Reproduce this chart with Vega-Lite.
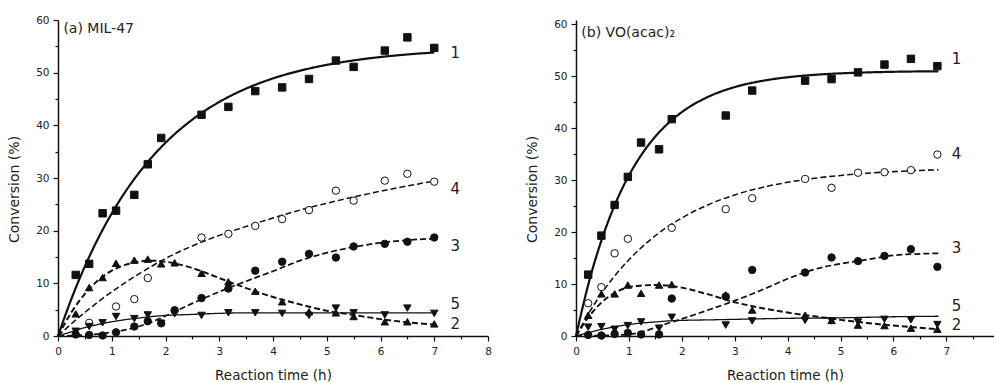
{
  "$schema": "https://vega.github.io/schema/vega-lite/v6.json",
  "background": "white",
  "padding": {"left": 7, "top": 15, "right": 0, "bottom": 0},
  "spacing": 33,
  "config": {
    "view": {"stroke": null},
    "font": "DejaVu Sans",
    "axis": {"grid": false, "domainColor": "#111", "domainWidth": 1.5, "tickColor": "#111", "tickWidth": 1.2, "labelFont": "DejaVu Sans", "labelFontSize": 10.5, "labelColor": "#222", "titleFont": "DejaVu Sans", "titleFontWeight": "normal", "titleColor": "#222", "labelOverlap": false, "labelFlush": false},
    "axisX": {"labelPadding": 5, "titleFontSize": 13.5, "titlePadding": 12},
    "axisY": {"labelPadding": 4, "titleFontSize": 14, "titlePadding": 14, "titleY": 169}
  },
  "datasets": {
    "pa": [
      {"t":0.33,"y":11.6,"s":"1"},{"t":0.58,"y":13.7,"s":"1"},{"t":0.83,"y":23.3,"s":"1"},{"t":1.08,"y":23.8,"s":"1"},{"t":1.42,"y":26.8,"s":"1"},{"t":1.67,"y":32.6,"s":"1"},{"t":1.92,"y":37.6,"s":"1"},{"t":2.67,"y":42.0,"s":"1"},{"t":3.17,"y":43.5,"s":"1"},{"t":3.67,"y":46.5,"s":"1"},{"t":4.17,"y":47.2,"s":"1"},{"t":4.67,"y":48.8,"s":"1"},{"t":5.17,"y":52.3,"s":"1"},{"t":5.5,"y":51.1,"s":"1"},{"t":6.08,"y":54.2,"s":"1"},{"t":6.5,"y":56.7,"s":"1"},{"t":7.0,"y":54.7,"s":"1"},
      {"t":0.58,"y":2.5,"s":"4"},{"t":1.08,"y":5.6,"s":"4"},{"t":1.42,"y":7.0,"s":"4"},{"t":1.67,"y":11.0,"s":"4"},{"t":2.67,"y":18.7,"s":"4"},{"t":3.17,"y":19.4,"s":"4"},{"t":3.67,"y":20.9,"s":"4"},{"t":4.17,"y":22.2,"s":"4"},{"t":4.67,"y":23.9,"s":"4"},{"t":5.17,"y":27.6,"s":"4"},{"t":5.5,"y":25.7,"s":"4"},{"t":6.08,"y":29.5,"s":"4"},{"t":6.5,"y":30.8,"s":"4"},{"t":7.0,"y":29.3,"s":"4"},
      {"t":0.33,"y":0.3,"s":"3"},{"t":0.58,"y":0.2,"s":"3"},{"t":0.83,"y":0.1,"s":"3"},{"t":1.08,"y":0.7,"s":"3"},{"t":1.42,"y":1.8,"s":"3"},{"t":1.67,"y":2.8,"s":"3"},{"t":1.92,"y":2.4,"s":"3"},{"t":2.17,"y":4.9,"s":"3"},{"t":2.67,"y":7.2,"s":"3"},{"t":3.17,"y":9.0,"s":"3"},{"t":3.67,"y":12.4,"s":"3"},{"t":4.17,"y":14.1,"s":"3"},{"t":4.67,"y":15.6,"s":"3"},{"t":5.17,"y":14.9,"s":"3"},{"t":5.5,"y":17.0,"s":"3"},{"t":6.08,"y":17.5,"s":"3"},{"t":6.5,"y":17.9,"s":"3"},{"t":7.0,"y":18.7,"s":"3"},
      {"t":0.33,"y":4.2,"s":"2"},{"t":0.58,"y":9.2,"s":"2"},{"t":0.83,"y":11.1,"s":"2"},{"t":1.08,"y":13.8,"s":"2"},{"t":1.42,"y":14.4,"s":"2"},{"t":1.67,"y":14.6,"s":"2"},{"t":1.92,"y":13.7,"s":"2"},{"t":2.17,"y":13.9,"s":"2"},{"t":2.67,"y":11.9,"s":"2"},{"t":3.17,"y":10.3,"s":"2"},{"t":3.67,"y":8.5,"s":"2"},{"t":4.17,"y":6.5,"s":"2"},{"t":4.67,"y":4.6,"s":"2"},{"t":5.17,"y":4.4,"s":"2"},{"t":5.5,"y":3.7,"s":"2"},{"t":6.08,"y":2.7,"s":"2"},{"t":6.5,"y":2.7,"s":"2"},{"t":7.0,"y":2.3,"s":"2"},
      {"t":0.33,"y":0.9,"s":"5"},{"t":0.58,"y":1.8,"s":"5"},{"t":0.83,"y":2.5,"s":"5"},{"t":1.08,"y":3.7,"s":"5"},{"t":1.42,"y":3.3,"s":"5"},{"t":1.67,"y":4.0,"s":"5"},{"t":1.92,"y":2.4,"s":"5"},{"t":2.17,"y":4.2,"s":"5"},{"t":2.67,"y":3.9,"s":"5"},{"t":3.17,"y":4.4,"s":"5"},{"t":3.67,"y":4.4,"s":"5"},{"t":4.17,"y":4.3,"s":"5"},{"t":4.67,"y":3.9,"s":"5"},{"t":5.17,"y":5.3,"s":"5"},{"t":5.5,"y":4.4,"s":"5"},{"t":6.08,"y":4.0,"s":"5"},{"t":6.5,"y":5.3,"s":"5"},{"t":7.0,"y":4.3,"s":"5"}
    ],
    "fa": [
      {"t":0,"y":0,"s":"1"},{"t":0.25,"y":7.07,"s":"1"},{"t":0.5,"y":13.22,"s":"1"},{"t":0.75,"y":18.59,"s":"1"},{"t":1,"y":23.27,"s":"1"},{"t":1.25,"y":27.35,"s":"1"},{"t":1.5,"y":30.9,"s":"1"},{"t":1.75,"y":33.99,"s":"1"},{"t":2,"y":36.69,"s":"1"},{"t":2.5,"y":41.1,"s":"1"},{"t":3,"y":44.44,"s":"1"},{"t":3.5,"y":46.98,"s":"1"},{"t":4,"y":48.91,"s":"1"},{"t":4.5,"y":50.37,"s":"1"},{"t":5,"y":51.48,"s":"1"},{"t":5.5,"y":52.33,"s":"1"},{"t":6,"y":52.97,"s":"1"},{"t":6.5,"y":53.46,"s":"1"},{"t":7,"y":53.83,"s":"1"},
      {"t":0,"y":0,"s":"4"},{"t":0.25,"y":2.32,"s":"4"},{"t":0.5,"y":4.48,"s":"4"},{"t":0.75,"y":6.5,"s":"4"},{"t":1,"y":8.38,"s":"4"},{"t":1.25,"y":10.13,"s":"4"},{"t":1.5,"y":11.76,"s":"4"},{"t":1.75,"y":13.29,"s":"4"},{"t":2,"y":14.71,"s":"4"},{"t":2.5,"y":17.1,"s":"4"},{"t":3,"y":19.1,"s":"4"},{"t":3.5,"y":20.8,"s":"4"},{"t":4,"y":22.4,"s":"4"},{"t":4.5,"y":23.9,"s":"4"},{"t":5,"y":25.2,"s":"4"},{"t":5.5,"y":26.4,"s":"4"},{"t":6,"y":27.5,"s":"4"},{"t":6.5,"y":28.5,"s":"4"},{"t":7,"y":29.4,"s":"4"},
      {"t":0,"y":0,"s":"3"},{"t":0.5,"y":0.2,"s":"3"},{"t":1,"y":0.7,"s":"3"},{"t":1.5,"y":1.8,"s":"3"},{"t":2,"y":3.8,"s":"3"},{"t":2.5,"y":6.2,"s":"3"},{"t":3,"y":8.4,"s":"3"},{"t":3.5,"y":10.4,"s":"3"},{"t":4,"y":12.3,"s":"3"},{"t":4.5,"y":14.3,"s":"3"},{"t":5,"y":15.8,"s":"3"},{"t":5.5,"y":16.9,"s":"3"},{"t":6,"y":17.7,"s":"3"},{"t":6.5,"y":18.2,"s":"3"},{"t":7,"y":18.5,"s":"3"},
      {"t":0,"y":0,"s":"2"},{"t":0.25,"y":4.5,"s":"2"},{"t":0.5,"y":8.0,"s":"2"},{"t":0.75,"y":10.6,"s":"2"},{"t":1,"y":12.4,"s":"2"},{"t":1.25,"y":13.5,"s":"2"},{"t":1.5,"y":14.1,"s":"2"},{"t":1.75,"y":14.3,"s":"2"},{"t":2,"y":14.1,"s":"2"},{"t":2.5,"y":12.9,"s":"2"},{"t":3,"y":11.0,"s":"2"},{"t":3.5,"y":9.1,"s":"2"},{"t":4,"y":7.4,"s":"2"},{"t":4.5,"y":6.0,"s":"2"},{"t":5,"y":4.8,"s":"2"},{"t":5.5,"y":4.0,"s":"2"},{"t":6,"y":3.2,"s":"2"},{"t":6.5,"y":2.6,"s":"2"},{"t":7,"y":2.2,"s":"2"},
      {"t":0,"y":0,"s":"5"},{"t":0.25,"y":0.8,"s":"5"},{"t":0.5,"y":1.6,"s":"5"},{"t":0.75,"y":2.2,"s":"5"},{"t":1,"y":2.7,"s":"5"},{"t":1.25,"y":3.1,"s":"5"},{"t":1.5,"y":3.4,"s":"5"},{"t":1.75,"y":3.7,"s":"5"},{"t":2,"y":3.9,"s":"5"},{"t":2.5,"y":4.1,"s":"5"},{"t":3,"y":4.3,"s":"5"},{"t":3.5,"y":4.4,"s":"5"},{"t":4,"y":4.4,"s":"5"},{"t":5,"y":4.4,"s":"5"},{"t":6,"y":4.4,"s":"5"},{"t":7,"y":4.4,"s":"5"}
    ],
    "la": [
      {"t":7.3,"y":53.7,"txt":"1"},{"t":7.3,"y":27.9,"txt":"4"},{"t":7.3,"y":17.1,"txt":"3"},{"t":7.3,"y":6.0,"txt":"5"},{"t":7.3,"y":2.3,"txt":"2"}
    ],
    "ta": [{"t":0.1,"y":58.3,"txt":"(a) MIL-47"}],
    "pb": [
      {"t":0.23,"y":11.8,"s":"1"},{"t":0.48,"y":19.3,"s":"1"},{"t":0.73,"y":25.2,"s":"1"},{"t":0.98,"y":30.6,"s":"1"},{"t":1.23,"y":37.2,"s":"1"},{"t":1.57,"y":35.9,"s":"1"},{"t":1.81,"y":41.7,"s":"1"},{"t":2.83,"y":42.4,"s":"1"},{"t":3.33,"y":47.2,"s":"1"},{"t":4.33,"y":49.1,"s":"1"},{"t":4.83,"y":49.4,"s":"1"},{"t":5.33,"y":50.7,"s":"1"},{"t":5.83,"y":52.2,"s":"1"},{"t":6.33,"y":53.3,"s":"1"},{"t":6.83,"y":51.9,"s":"1"},
      {"t":0.23,"y":6.3,"s":"4"},{"t":0.48,"y":9.4,"s":"4"},{"t":0.73,"y":15.9,"s":"4"},{"t":0.98,"y":18.7,"s":"4"},{"t":1.81,"y":20.8,"s":"4"},{"t":2.83,"y":24.4,"s":"4"},{"t":3.33,"y":26.5,"s":"4"},{"t":4.33,"y":30.2,"s":"4"},{"t":4.83,"y":28.5,"s":"4"},{"t":5.33,"y":31.4,"s":"4"},{"t":5.83,"y":31.5,"s":"4"},{"t":6.33,"y":31.9,"s":"4"},{"t":6.83,"y":34.9,"s":"4"},
      {"t":0.23,"y":0.2,"s":"3"},{"t":0.48,"y":0.1,"s":"3"},{"t":0.73,"y":0.4,"s":"3"},{"t":0.98,"y":0.6,"s":"3"},{"t":1.23,"y":0.3,"s":"3"},{"t":1.57,"y":0.3,"s":"3"},{"t":1.81,"y":7.2,"s":"3"},{"t":2.83,"y":7.6,"s":"3"},{"t":3.33,"y":12.7,"s":"3"},{"t":4.33,"y":12.2,"s":"3"},{"t":4.83,"y":15.1,"s":"3"},{"t":5.33,"y":14.4,"s":"3"},{"t":5.83,"y":15.4,"s":"3"},{"t":6.33,"y":16.7,"s":"3"},{"t":6.83,"y":13.3,"s":"3"},
      {"t":0.23,"y":4.0,"s":"2"},{"t":0.48,"y":8.1,"s":"2"},{"t":0.73,"y":8.1,"s":"2"},{"t":0.98,"y":9.8,"s":"2"},{"t":1.23,"y":8.2,"s":"2"},{"t":1.57,"y":9.8,"s":"2"},{"t":1.81,"y":9.9,"s":"2"},{"t":2.83,"y":7.9,"s":"2"},{"t":3.33,"y":5.0,"s":"2"},{"t":4.33,"y":4.0,"s":"2"},{"t":4.83,"y":3.0,"s":"2"},{"t":5.33,"y":2.1,"s":"2"},{"t":5.83,"y":2.0,"s":"2"},{"t":6.33,"y":1.5,"s":"2"},{"t":6.83,"y":1.3,"s":"2"},
      {"t":0.23,"y":1.7,"s":"5"},{"t":0.48,"y":1.8,"s":"5"},{"t":0.73,"y":1.3,"s":"5"},{"t":0.98,"y":2.0,"s":"5"},{"t":1.23,"y":2.7,"s":"5"},{"t":1.57,"y":1.5,"s":"5"},{"t":1.81,"y":3.6,"s":"5"},{"t":2.83,"y":2.1,"s":"5"},{"t":3.33,"y":2.9,"s":"5"},{"t":4.33,"y":3.0,"s":"5"},{"t":4.83,"y":2.9,"s":"5"},{"t":5.33,"y":2.7,"s":"5"},{"t":5.83,"y":3.2,"s":"5"},{"t":6.33,"y":3.1,"s":"5"},{"t":6.83,"y":2.2,"s":"5"}
    ],
    "fb": [
      {"t":0,"y":0,"s":"1"},{"t":0.25,"y":10.58,"s":"1"},{"t":0.5,"y":18.96,"s":"1"},{"t":0.75,"y":25.61,"s":"1"},{"t":1,"y":30.88,"s":"1"},{"t":1.25,"y":35.05,"s":"1"},{"t":1.5,"y":38.36,"s":"1"},{"t":1.75,"y":40.98,"s":"1"},{"t":2,"y":43.06,"s":"1"},{"t":2.5,"y":46.01,"s":"1"},{"t":3,"y":47.87,"s":"1"},{"t":3.5,"y":49.03,"s":"1"},{"t":4,"y":49.76,"s":"1"},{"t":4.5,"y":50.22,"s":"1"},{"t":5,"y":50.51,"s":"1"},{"t":5.5,"y":50.69,"s":"1"},{"t":6,"y":50.81,"s":"1"},{"t":6.5,"y":50.88,"s":"1"},{"t":6.85,"y":50.91,"s":"1"},
      {"t":0,"y":0,"s":"4"},{"t":0.25,"y":4.53,"s":"4"},{"t":0.5,"y":8.42,"s":"4"},{"t":0.75,"y":11.78,"s":"4"},{"t":1,"y":14.66,"s":"4"},{"t":1.25,"y":17.15,"s":"4"},{"t":1.5,"y":19.29,"s":"4"},{"t":1.75,"y":21.13,"s":"4"},{"t":2,"y":22.71,"s":"4"},{"t":2.5,"y":25.25,"s":"4"},{"t":3,"y":27.13,"s":"4"},{"t":3.5,"y":28.52,"s":"4"},{"t":4,"y":29.55,"s":"4"},{"t":4.5,"y":30.32,"s":"4"},{"t":5,"y":30.88,"s":"4"},{"t":5.5,"y":31.3,"s":"4"},{"t":6,"y":31.61,"s":"4"},{"t":6.5,"y":31.84,"s":"4"},{"t":6.85,"y":31.97,"s":"4"},
      {"t":0,"y":0,"s":"3"},{"t":0.5,"y":0.1,"s":"3"},{"t":1,"y":0.3,"s":"3"},{"t":1.25,"y":0.8,"s":"3"},{"t":1.5,"y":1.6,"s":"3"},{"t":1.75,"y":2.5,"s":"3"},{"t":2,"y":3.3,"s":"3"},{"t":2.5,"y":5.0,"s":"3"},{"t":3,"y":6.8,"s":"3"},{"t":3.5,"y":8.8,"s":"3"},{"t":4,"y":11.0,"s":"3"},{"t":4.5,"y":12.8,"s":"3"},{"t":5,"y":13.9,"s":"3"},{"t":5.5,"y":14.7,"s":"3"},{"t":6,"y":15.5,"s":"3"},{"t":6.5,"y":15.8,"s":"3"},{"t":6.85,"y":15.9,"s":"3"},
      {"t":0,"y":0,"s":"2"},{"t":0.25,"y":3.8,"s":"2"},{"t":0.5,"y":6.6,"s":"2"},{"t":0.75,"y":8.4,"s":"2"},{"t":1,"y":9.4,"s":"2"},{"t":1.25,"y":9.7,"s":"2"},{"t":1.5,"y":9.8,"s":"2"},{"t":1.75,"y":9.7,"s":"2"},{"t":2,"y":9.3,"s":"2"},{"t":2.5,"y":8.0,"s":"2"},{"t":3,"y":6.5,"s":"2"},{"t":3.5,"y":5.4,"s":"2"},{"t":4,"y":4.5,"s":"2"},{"t":4.5,"y":3.8,"s":"2"},{"t":5,"y":3.1,"s":"2"},{"t":5.5,"y":2.5,"s":"2"},{"t":6,"y":2.0,"s":"2"},{"t":6.5,"y":1.6,"s":"2"},{"t":6.85,"y":1.3,"s":"2"},
      {"t":0,"y":0,"s":"5"},{"t":0.25,"y":0.7,"s":"5"},{"t":0.5,"y":1.3,"s":"5"},{"t":0.75,"y":1.8,"s":"5"},{"t":1,"y":2.2,"s":"5"},{"t":1.25,"y":2.5,"s":"5"},{"t":1.5,"y":2.7,"s":"5"},{"t":1.75,"y":2.9,"s":"5"},{"t":2,"y":3.0,"s":"5"},{"t":2.5,"y":3.1,"s":"5"},{"t":3,"y":3.2,"s":"5"},{"t":4,"y":3.4,"s":"5"},{"t":5,"y":3.5,"s":"5"},{"t":6,"y":3.7,"s":"5"},{"t":6.85,"y":3.8,"s":"5"}
    ],
    "lb": [
      {"t":7.1,"y":53.3,"txt":"1"},{"t":7.1,"y":35.0,"txt":"4"},{"t":7.1,"y":16.9,"txt":"3"},{"t":7.1,"y":5.8,"txt":"5"},{"t":7.1,"y":2.1,"txt":"2"}
    ],
    "tb": [{"t":0.1,"y":58.3,"txt":"(b) VO(acac)₂"}]
  },
  "resolve": {"scale": {"x": "independent", "y": "independent"}},
  "hconcat": [
    {
      "width": 430, "height": 316,
      "encoding": {
        "x": {"field": "t", "type": "quantitative", "scale": {"domain": [0, 8], "nice": false, "zero": false},
          "axis": {"title": "Reaction time (h)", "values": [0,0.5,1,1.5,2,2.5,3,3.5,4,4.5,5,5.5,6,6.5,7,7.5,8],
            "labelExpr": "datum.value % 1 === 0 ? '' + datum.value : ''",
            "tickSize": {"condition": {"test": "datum.value % 1 !== 0", "value": 3}, "value": 5}}},
        "y": {"field": "y", "type": "quantitative", "scale": {"domain": [0, 60], "nice": false},
          "axis": {"title": "Conversion (%)", "values": [0,5,10,15,20,25,30,35,40,45,50,55,60],
            "labelExpr": "datum.value % 10 === 0 ? '' + datum.value : ''",
            "tickSize": {"condition": {"test": "datum.value % 10 !== 0", "value": 3}, "value": 5}}}
      },
      "layer": [
        {"data": {"name": "fa"}, "mark": {"type": "line", "interpolate": "monotone", "color": "#111"},
          "encoding": {"detail": {"field": "s"},
            "strokeDash": {"field": "s", "type": "nominal", "scale": {"domain": ["1","2","3","4","5"], "range": [[1,0],[6,3],[6,3],[6,3],[1,0]]}, "legend": null},
            "strokeWidth": {"field": "s", "type": "nominal", "scale": {"domain": ["1","2","3","4","5"], "range": [2.2,1.3,1.3,1.1,1]}, "legend": null}}},
        {"data": {"name": "pa"}, "mark": {"type": "point", "filled": true, "stroke": "#111", "strokeWidth": 1, "opacity": 1, "size": 55},
          "encoding": {
            "shape": {"field": "s", "type": "nominal", "scale": {"domain": ["1","2","3","4","5"], "range": ["square","triangle-up","circle","circle","triangle-down"]}, "legend": null},
            "fill": {"field": "s", "type": "nominal", "scale": {"domain": ["1","2","3","4","5"], "range": ["#111","#111","#111","white","#111"]}, "legend": null}}},
        {"data": {"name": "la"}, "mark": {"type": "text", "align": "left", "baseline": "middle", "fontSize": 15, "color": "#222"},
          "encoding": {"text": {"field": "txt"}}},
        {"data": {"name": "ta"}, "mark": {"type": "text", "align": "left", "baseline": "middle", "fontSize": 14, "color": "#222"},
          "encoding": {"text": {"field": "txt"}}}
      ]
    },
    {
      "width": 418, "height": 316,
      "encoding": {
        "x": {"field": "t", "type": "quantitative", "scale": {"domain": [0, 7.9], "nice": false, "zero": false},
          "axis": {"title": "Reaction time (h)", "values": [0,0.5,1,1.5,2,2.5,3,3.5,4,4.5,5,5.5,6,6.5,7,7.5],
            "labelExpr": "datum.value % 1 === 0 ? '' + datum.value : ''",
            "tickSize": {"condition": {"test": "datum.value % 1 !== 0", "value": 3}, "value": 5}}},
        "y": {"field": "y", "type": "quantitative", "scale": {"domain": [0, 60.77], "nice": false},
          "axis": {"title": "Conversion (%)", "values": [0,5,10,15,20,25,30,35,40,45,50,55,60],
            "labelExpr": "datum.value % 10 === 0 ? '' + datum.value : ''",
            "tickSize": {"condition": {"test": "datum.value % 10 !== 0", "value": 3}, "value": 5}}}
      },
      "layer": [
        {"data": {"name": "fb"}, "mark": {"type": "line", "interpolate": "monotone", "color": "#111"},
          "encoding": {"detail": {"field": "s"},
            "strokeDash": {"field": "s", "type": "nominal", "scale": {"domain": ["1","2","3","4","5"], "range": [[1,0],[6,3],[6,3],[6,3],[1,0]]}, "legend": null},
            "strokeWidth": {"field": "s", "type": "nominal", "scale": {"domain": ["1","2","3","4","5"], "range": [2.2,1.3,1.3,1.0,1.2]}, "legend": null}}},
        {"data": {"name": "pb"}, "mark": {"type": "point", "filled": true, "stroke": "#111", "strokeWidth": 1, "opacity": 1, "size": 55},
          "encoding": {
            "shape": {"field": "s", "type": "nominal", "scale": {"domain": ["1","2","3","4","5"], "range": ["square","triangle-up","circle","circle","triangle-down"]}, "legend": null},
            "fill": {"field": "s", "type": "nominal", "scale": {"domain": ["1","2","3","4","5"], "range": ["#111","#111","#111","white","#111"]}, "legend": null}}},
        {"data": {"name": "lb"}, "mark": {"type": "text", "align": "left", "baseline": "middle", "fontSize": 15, "color": "#222"},
          "encoding": {"text": {"field": "txt"}}},
        {"data": {"name": "tb"}, "mark": {"type": "text", "align": "left", "baseline": "middle", "fontSize": 14, "color": "#222"},
          "encoding": {"text": {"field": "txt"}}}
      ]
    }
  ]
}
